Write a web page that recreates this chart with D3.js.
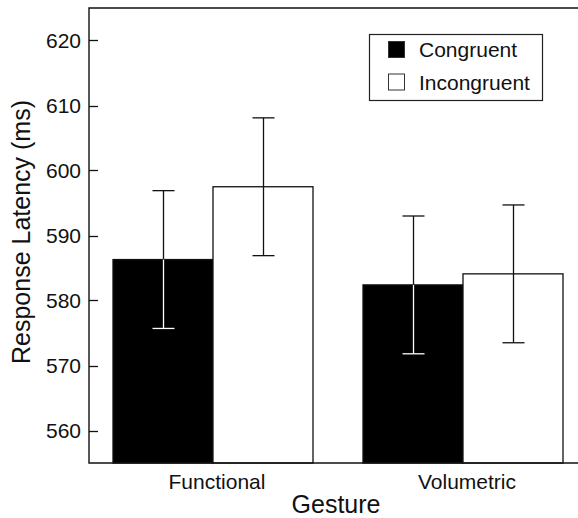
<!DOCTYPE html>
<html>
<head>
<meta charset="utf-8">
<script src="https://cdn.jsdelivr.net/npm/d3@7"></script>
<style>
	body { margin: 0; background: #fff; }
	text { font-family: "Liberation Sans", Arial, Helvetica, sans-serif; fill: #111; }
</style>
</head>
<body>
<div id="chart"></div>
<script>
// Values
const gestures = ['Functional', 'Volumetric'];
const conditions = ['Congruent', 'Incongruent'];
const congruentMeans = [586.3, 582.4];
const incongruentMeans = [597.5, 584.1];
const congruentErr = [10.6, 10.6];
const incongruentErr = [10.6, 10.6];
const yTicks = [560, 570, 580, 590, 600, 610, 620];

const width = 578;
const height = 518;
const plotLeft = 89, plotTop = 8, plotBottom = 463, plotRight = 587;

const fills = { Congruent: '#000', Incongruent: '#fff' };

let rows = [];
gestures.forEach((g, i) => {
	rows.push({ gesture: g, condition: 'Congruent', mean: congruentMeans[i], err: congruentErr[i] });
	rows.push({ gesture: g, condition: 'Incongruent', mean: incongruentMeans[i], err: incongruentErr[i] });
});

let svg = d3.select('#chart').append('svg')
	.attr('width', width)
	.attr('height', height);

let yScale = d3.scaleLinear().domain([555, 625]).range([plotBottom, plotTop]);

let xScale = d3.scaleBand()
	.domain(gestures)
	.range([plotLeft, plotRight])
	.paddingInner(0.2)
	.paddingOuter(0.096);

let xSub = d3.scaleBand()
	.domain(conditions)
	.range([0, xScale.bandwidth()]);

// bars
let bars = svg.append('g');
bars.selectAll('rect')
	.data(rows)
	.enter().append('rect')
		.attr('x', d => xScale(d.gesture) + xSub(d.condition))
		.attr('y', d => yScale(d.mean))
		.attr('width', xSub.bandwidth())
		.attr('height', d => plotBottom - yScale(d.mean))
		.attr('fill', d => fills[d.condition])
		.attr('stroke', '#111')
		.attr('stroke-width', 1.3);

// error bars: the part inside a black bar is drawn white
let capHalf = 11;
let errs = svg.append('g').attr('stroke-width', 1.3);
rows.forEach(d => {
	let cx = Math.round(xScale(d.gesture) + xSub(d.condition) + xSub.bandwidth() / 2) + 0.5;
	let yHi = yScale(d.mean + d.err);
	let yLo = yScale(d.mean - d.err);
	let yBar = yScale(d.mean);
	let inner = d.condition === 'Congruent' ? '#fff' : '#111';

	errs.append('line')
		.attr('x1', cx).attr('x2', cx)
		.attr('y1', yHi).attr('y2', yBar)
		.attr('stroke', '#111');
	errs.append('line')
		.attr('x1', cx).attr('x2', cx)
		.attr('y1', yBar).attr('y2', yLo)
		.attr('stroke', inner);
	errs.append('line')
		.attr('x1', cx - capHalf).attr('x2', cx + capHalf)
		.attr('y1', yHi).attr('y2', yHi)
		.attr('stroke', '#111');
	errs.append('line')
		.attr('x1', cx - capHalf).attr('x2', cx + capHalf)
		.attr('y1', yLo).attr('y2', yLo)
		.attr('stroke', inner);
});

// frame
let frame = svg.append('g')
	.attr('stroke', '#111')
	.attr('stroke-width', 1.4)
	.attr('fill', 'none');
frame.append('path')
	.attr('d', 'M' + plotRight + ',' + plotTop + 'H' + plotLeft + 'V' + plotBottom + 'H' + plotRight);

// y axis, ticks point inward
let yAxis = svg.append('g');
yAxis.selectAll('line')
	.data(yTicks)
	.enter().append('line')
		.attr('x1', plotLeft).attr('x2', plotLeft + 9)
		.attr('y1', d => Math.round(yScale(d)) + 0.5)
		.attr('y2', d => Math.round(yScale(d)) + 0.5)
		.attr('stroke', '#111')
		.attr('stroke-width', 1.3);
yAxis.selectAll('text')
	.data(yTicks)
	.enter().append('text')
		.attr('x', 81)
		.attr('y', d => yScale(d))
		.attr('dy', '0.36em')
		.attr('text-anchor', 'end')
		.style('font-size', '21px')
		.text(d => d);

// x category labels
svg.append('g').selectAll('text')
	.data(gestures)
	.enter().append('text')
		.attr('x', d => xScale(d) + xScale.bandwidth() / 2 + 4)
		.attr('y', 489)
		.attr('text-anchor', 'middle')
		.style('font-size', '21px')
		.text(d => d);

// axis titles
svg.append('text')
	.attr('x', 336)
	.attr('y', 513)
	.attr('text-anchor', 'middle')
	.style('font-size', '25px')
	.text('Gesture');

svg.append('text')
	.attr('transform', 'translate(30,232) rotate(-90)')
	.attr('text-anchor', 'middle')
	.style('font-size', '25px')
	.text('Response Latency (ms)');

// legend
let legend = svg.append('g');
legend.append('rect')
	.attr('x', 369.5).attr('y', 34.5)
	.attr('width', 173).attr('height', 66)
	.attr('fill', '#fff')
	.attr('stroke', '#222')
	.attr('stroke-width', 1.2);

conditions.forEach((c, i) => {
	legend.append('rect')
		.attr('x', 388.5).attr('y', 41.5 + i * 32.5)
		.attr('width', 16).attr('height', 16)
		.attr('fill', fills[c])
		.attr('stroke', '#333')
		.attr('stroke-width', 1);
	legend.append('text')
		.attr('x', 419)
		.attr('y', 57 + i * 32.5)
		.style('font-size', '21px')
		.text(c);
});
</script>
</body>
</html>
